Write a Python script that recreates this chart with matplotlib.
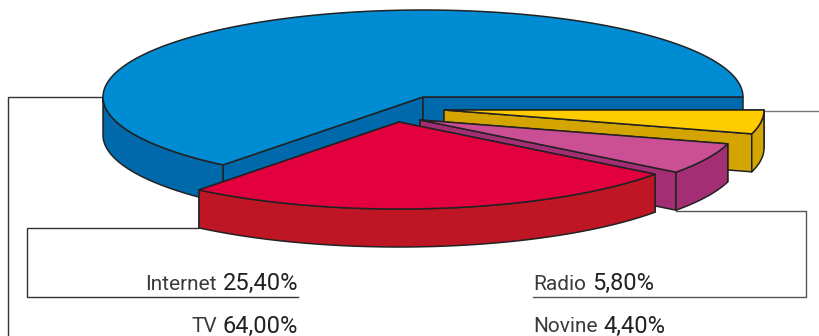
import numpy as np
import matplotlib
matplotlib.use('Agg')
import matplotlib.pyplot as plt
from matplotlib.patches import Polygon

# shares in drawing order around the pie
names = ['TV', 'Internet', 'Radio', 'Novine']
shares = [64.0, 25.4, 5.8, 4.4]
value_labels = ['64,00%', '25,40%', '5,80%', '4,40%']
top_colors = ['#008CD2', '#E2003F', '#CB4F95', '#FFCC00']
side_colors = ['#0069AC', '#BE1625', '#A32E74', '#D4A500']

# apex of each exploded slice, in pixels
apex_x = [423, 399, 420, 444]
apex_y = [97, 122, 120, 110]
RX, RY, DEPTH = 320, 87, 38
EDGE = '#222222'

plt.rcParams['font.family'] = ['Roboto', 'DejaVu Sans']

fig = plt.figure(figsize=(8.19, 3.36), dpi=100)
ax = fig.add_axes([0, 0, 1, 1])
ax.set_xlim(0, 819)
ax.set_ylim(336, 0)
ax.axis('off')


def arc(cx, cy, t0, t1):
    t = np.radians(np.linspace(t0, t1, 120))
    return np.column_stack([cx + RX * np.cos(t), cy - RY * np.sin(t)])


def draw_slice(i, t0, t1):
    cx, cy = apex_x[i], apex_y[i]
    edge = dict(edgecolor=EDGE, linewidth=1.1, joinstyle='round')
    # flat faces along the two cuts, far one first so the near one hides it
    for t in (t1, t0):
        p = arc(cx, cy, t, t)[0]
        face = [(cx, cy), p, (p[0], p[1] + DEPTH), (cx, cy + DEPTH)]
        ax.add_patch(Polygon(face, facecolor=side_colors[i], zorder=3, **edge))
    # outer rim, only the front half shows
    lo, hi = max(t0, 180), min(t1, 360)
    if hi > lo:
        upper = arc(cx, cy, lo, hi)
        lower = upper[::-1] + [0, DEPTH]
        ax.add_patch(Polygon(np.vstack([upper, lower]), facecolor=side_colors[i], zorder=3, **edge))
    top = np.vstack([[(cx, cy)], arc(cx, cy, t0, t1)])
    ax.add_patch(Polygon(top, facecolor=top_colors[i], zorder=3, **edge))


# leader lines from the slices to the labels
line = dict(color='#333333', linewidth=1, zorder=1, solid_joinstyle='miter')
ax.plot([103, 7.5, 7.5], [97, 97, 336], **line)
ax.plot([198, 26.5, 26.5, 298], [228, 228, 296.5, 296.5], **line)
ax.plot([676, 805.5, 805.5, 533], [210.5, 210.5, 296.5, 296.5], color='#555555', linewidth=1, zorder=1)
ax.plot([764, 819], [110.5, 110.5], color='#777777', linewidth=1, zorder=1)

# slice angles from the shares, back to front
ends = np.cumsum(shares) / np.sum(shares) * 360
starts = np.concatenate([[0], ends[:-1]])
for i in (0, 3, 2, 1):
    draw_slice(i, starts[i], ends[i])

renderer = fig.canvas.get_renderer()


def width_of(txt):
    return txt.get_window_extent(renderer).width


def label_right(i, x, y):
    val = ax.text(x, y, value_labels[i], ha='right', va='baseline', fontsize=17, color='#222222')
    ax.text(x - width_of(val) - 6, y, names[i], ha='right', va='baseline', fontsize=15, color='#3a3a3a')


def label_left(i, x, y):
    nm = ax.text(x, y, names[i], ha='left', va='baseline', fontsize=15, color='#3a3a3a')
    ax.text(x + width_of(nm) + 6, y, value_labels[i], ha='left', va='baseline', fontsize=17, color='#222222')


label_right(1, 298, 290)
label_right(0, 298, 332.5)
label_left(2, 533, 290)
label_left(3, 533, 332.5)

fig.savefig('out.png', dpi=100)
